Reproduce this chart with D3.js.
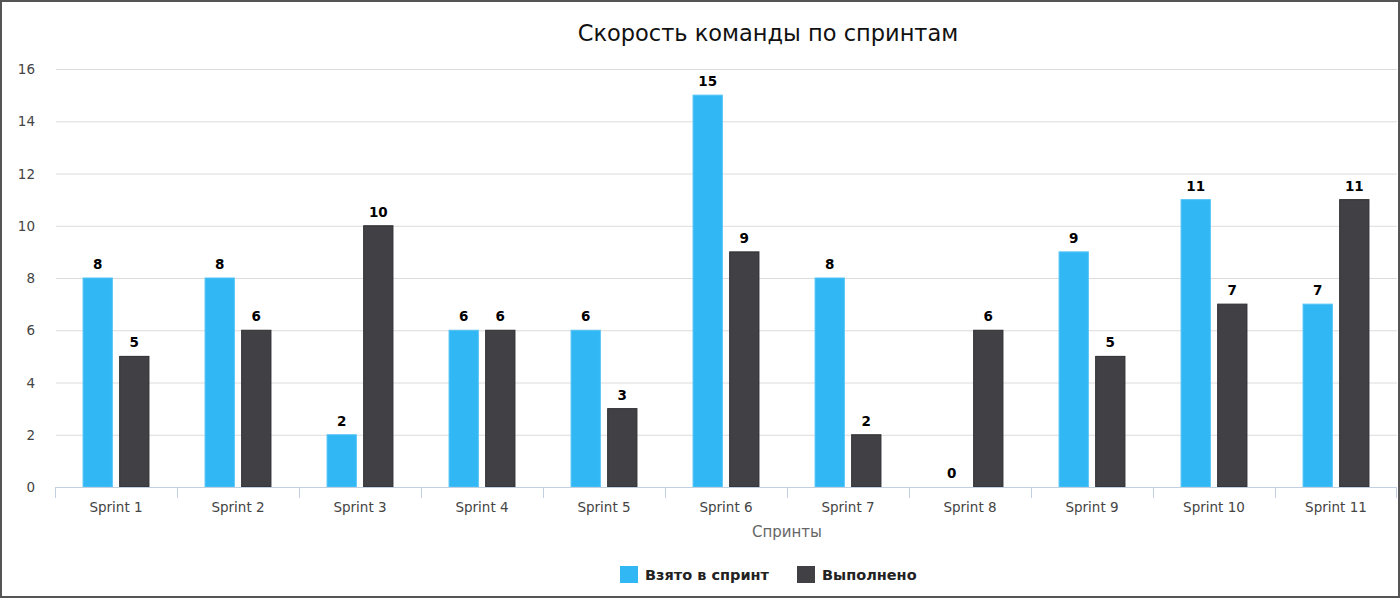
<!DOCTYPE html>
<html>
<head>
<meta charset="utf-8">
<script src="https://cdn.jsdelivr.net/npm/d3@7"></script>
<style>
  body { margin: 0; background: #fff; }
  svg { display: block; font-family: "DejaVu Sans", sans-serif; }
</style>
</head>
<body>
<svg id="chart"></svg>
<script>
var sprints = ["Sprint 1", "Sprint 2", "Sprint 3", "Sprint 4", "Sprint 5", "Sprint 6",
               "Sprint 7", "Sprint 8", "Sprint 9", "Sprint 10", "Sprint 11"];
var seriesNames = ["Взято в спринт", "Выполнено"];
var taken = [8, 8, 2, 6, 6, 15, 8, 0, 9, 11, 7];
var done = [5, 6, 10, 6, 3, 9, 2, 6, 5, 7, 11];
var yTicks = [0, 2, 4, 6, 8, 10, 12, 14, 16];
var colors = ["#30b7f4", "#404045"];

var W = 1400, H = 598;
var margin = { top: 69, right: 3, bottom: 111, left: 55 };
var plotW = W - margin.left - margin.right,
    plotH = H - margin.top - margin.bottom;

var data = sprints.map(function(s, i) {
  return { sprint: s, values: [taken[i], done[i]] };
});

var svg = d3.select("#chart").attr("width", W).attr("height", H);

// frame
svg.append("rect")
  .attr("x", 1).attr("y", 1).attr("width", W - 2).attr("height", H - 2)
  .attr("fill", "#fff").attr("stroke", "#555").attr("stroke-width", 2);

var x0 = d3.scaleBand().domain(sprints).range([0, plotW]);
var x1 = d3.scaleBand().domain([0, 1])
  .range([x0.bandwidth() * 0.2, x0.bandwidth() * 0.8])
  .paddingInner(0.2).paddingOuter(0.1);
var y = d3.scaleLinear().domain([0, 16]).range([plotH, 0]);

var g = svg.append("g").attr("transform", "translate(" + margin.left + "," + margin.top + ")");

// grid
g.append("g")
  .selectAll("line")
  .data(yTicks.slice(1))
  .enter().append("line")
  .attr("x1", 1).attr("x2", plotW)
  .attr("y1", function(d) { return y(d) + 0.5; })
  .attr("y2", function(d) { return y(d) + 0.5; })
  .attr("stroke", "#dcdcdc");

// y labels
g.append("g")
  .selectAll("text")
  .data(yTicks)
  .enter().append("text")
  .attr("x", -20)
  .attr("y", function(d) { return y(d) + 5; })
  .attr("text-anchor", "end")
  .attr("fill", "#444")
  .style("font-size", "13.5px")
  .text(function(d) { return d; });

// bars
var groups = g.selectAll(".grp")
  .data(data)
  .enter().append("g")
  .attr("class", "grp")
  .attr("transform", function(d) { return "translate(" + x0(d.sprint) + ",0)"; });

groups.selectAll("rect")
  .data(function(d) { return d.values; })
  .enter().append("rect")
  .attr("x", function(d, i) { return x1(i); })
  .attr("y", function(d) { return y(d); })
  .attr("width", x1.bandwidth())
  .attr("height", function(d) { return plotH - y(d); })
  .attr("fill", function(d, i) { return colors[i]; })
  .attr("stroke", function(d, i) { return i === 0 ? "#55c4f6" : "#2e2e32"; })
  .attr("stroke-width", function(d) { return d > 0 ? 1 : 0; });

groups.selectAll("text")
  .data(function(d) { return d.values; })
  .enter().append("text")
  .attr("x", function(d, i) { return x1(i) + x1.bandwidth() / 2; })
  .attr("y", function(d) { return y(d) - 9; })
  .attr("text-anchor", "middle")
  .attr("fill", "#000")
  .style("font-size", "13.5px")
  .style("font-weight", "bold")
  .text(function(d) { return d; });

// x axis
var xAxis = g.append("g").attr("transform", "translate(0," + plotH + ")");
xAxis.append("line")
  .attr("x1", 0).attr("x2", plotW)
  .attr("y1", 0.5).attr("y2", 0.5)
  .attr("stroke", "#c0d0e0");
xAxis.selectAll(".tick")
  .data(sprints.concat(["end"]))
  .enter().append("line")
  .attr("x1", function(d, i) { return i < sprints.length ? x0(d) + 0.5 : plotW - 0.5; })
  .attr("x2", function(d, i) { return i < sprints.length ? x0(d) + 0.5 : plotW - 0.5; })
  .attr("y1", 0).attr("y2", 11)
  .attr("stroke", "#c0d0e0");
xAxis.selectAll(".lbl")
  .data(sprints)
  .enter().append("text")
  .attr("x", function(d) { return x0(d) + x0.bandwidth() / 2; })
  .attr("y", 25)
  .attr("text-anchor", "middle")
  .attr("fill", "#444")
  .style("font-size", "13.5px")
  .text(function(d) { return d; });

svg.append("text")
  .attr("x", 787).attr("y", 537)
  .attr("text-anchor", "middle")
  .attr("fill", "#666")
  .style("font-size", "15px")
  .text("Спринты");

// title
svg.append("text")
  .attr("x", 768).attr("y", 41)
  .attr("text-anchor", "middle")
  .attr("fill", "#111")
  .style("font-size", "22.5px")
  .text("Скорость команды по спринтам");

// legend
var legendX = [620, 797];
var legend = svg.selectAll(".leg")
  .data(seriesNames)
  .enter().append("g")
  .attr("transform", function(d, i) { return "translate(" + legendX[i] + ",566)"; });
legend.append("rect")
  .attr("width", 18).attr("height", 17)
  .attr("fill", function(d, i) { return colors[i]; });
legend.append("text")
  .attr("x", 25).attr("y", 14)
  .attr("fill", "#222")
  .style("font-size", "14.5px")
  .style("font-weight", "bold")
  .text(function(d) { return d; });
</script>
</body>
</html>
